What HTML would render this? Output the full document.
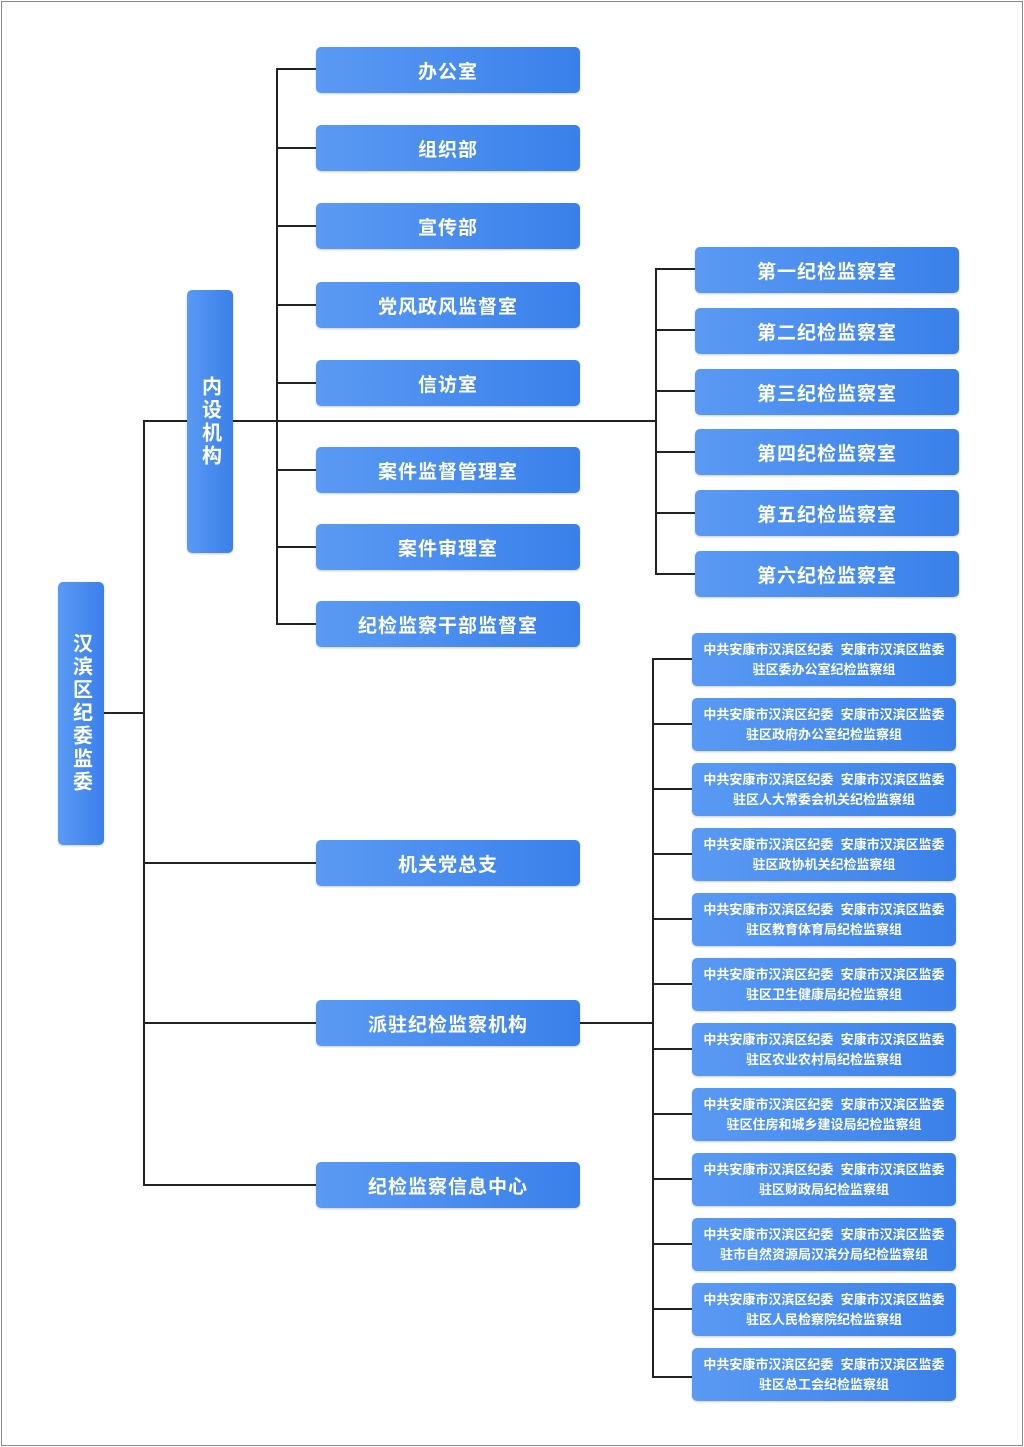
<!DOCTYPE html><html><head><meta charset="utf-8"><style>
body{margin:0;width:1024px;height:1447px;background:#fff;position:relative;overflow:hidden;font-family:"Liberation Sans","Noto Sans CJK SC",sans-serif}
.f{position:absolute;left:1px;top:1px;width:1020px;height:1443px;border:1px solid #888}
.b{position:absolute;background:linear-gradient(90deg,#5a9af4,#3a80ea);border-radius:5px;color:#fff;font-weight:bold;display:flex;align-items:center;justify-content:center;text-align:center;box-shadow:0 1px 2px rgba(0,0,0,.2)}
.l{width:264px;height:46px;left:316px;font-size:19px;letter-spacing:1px}
.r{width:264px;height:46px;left:695px;font-size:19px;letter-spacing:1px}
.s{width:264px;height:53px;left:692px;font-size:13px;line-height:20px}
.v{width:46px;writing-mode:vertical-rl;font-size:20px;letter-spacing:3px}
.h{position:absolute;height:2px;background:#222}
.vl{position:absolute;width:2px;background:#222}
</style></head><body><div class="f"></div>
<div class="vl" style="left:143px;top:420px;height:766px"></div>
<div class="h" style="left:104px;top:712px;width:40px"></div>
<div class="h" style="left:143px;top:420px;width:514px"></div>
<div class="vl" style="left:276px;top:68px;height:557px"></div>
<div class="h" style="left:276px;top:68px;width:40px"></div>
<div class="h" style="left:276px;top:147px;width:40px"></div>
<div class="h" style="left:276px;top:225px;width:40px"></div>
<div class="h" style="left:276px;top:304px;width:40px"></div>
<div class="h" style="left:276px;top:382px;width:40px"></div>
<div class="h" style="left:276px;top:469px;width:40px"></div>
<div class="h" style="left:276px;top:546px;width:40px"></div>
<div class="h" style="left:276px;top:623px;width:40px"></div>
<div class="h" style="left:143px;top:862px;width:173px"></div>
<div class="h" style="left:143px;top:1022px;width:173px"></div>
<div class="h" style="left:143px;top:1184px;width:173px"></div>
<div class="vl" style="left:655px;top:268px;height:306px"></div>
<div class="h" style="left:655px;top:268px;width:40px"></div>
<div class="h" style="left:655px;top:329px;width:40px"></div>
<div class="h" style="left:655px;top:390px;width:40px"></div>
<div class="h" style="left:655px;top:451px;width:40px"></div>
<div class="h" style="left:655px;top:512px;width:40px"></div>
<div class="h" style="left:655px;top:573px;width:40px"></div>
<div class="h" style="left:580px;top:1022px;width:74px"></div>
<div class="vl" style="left:652px;top:658px;height:720px"></div>
<div class="h" style="left:652px;top:658px;width:40px"></div>
<div class="h" style="left:652px;top:723px;width:40px"></div>
<div class="h" style="left:652px;top:788px;width:40px"></div>
<div class="h" style="left:652px;top:853px;width:40px"></div>
<div class="h" style="left:652px;top:918px;width:40px"></div>
<div class="h" style="left:652px;top:983px;width:40px"></div>
<div class="h" style="left:652px;top:1048px;width:40px"></div>
<div class="h" style="left:652px;top:1113px;width:40px"></div>
<div class="h" style="left:652px;top:1178px;width:40px"></div>
<div class="h" style="left:652px;top:1243px;width:40px"></div>
<div class="h" style="left:652px;top:1308px;width:40px"></div>
<div class="h" style="left:652px;top:1376px;width:40px"></div>
<div class="b v" style="left:58px;top:582px;height:263px">汉滨区纪委监委</div>
<div class="b v" style="left:187px;top:290px;height:263px">内设机构</div>
<div class="b l" style="top:47px">办公室</div>
<div class="b l" style="top:125px">组织部</div>
<div class="b l" style="top:203px">宣传部</div>
<div class="b l" style="top:282px">党风政风监督室</div>
<div class="b l" style="top:360px">信访室</div>
<div class="b l" style="top:447px">案件监督管理室</div>
<div class="b l" style="top:524px">案件审理室</div>
<div class="b l" style="top:601px">纪检监察干部监督室</div>
<div class="b l" style="top:840px">机关党总支</div>
<div class="b l" style="top:1000px">派驻纪检监察机构</div>
<div class="b l" style="top:1162px">纪检监察信息中心</div>
<div class="b r" style="top:247px">第一纪检监察室</div>
<div class="b r" style="top:308px">第二纪检监察室</div>
<div class="b r" style="top:369px">第三纪检监察室</div>
<div class="b r" style="top:429px">第四纪检监察室</div>
<div class="b r" style="top:490px">第五纪检监察室</div>
<div class="b r" style="top:551px">第六纪检监察室</div>
<div class="b s" style="top:633px">中共安康市汉滨区纪委&nbsp; 安康市汉滨区监委<br>驻区委办公室纪检监察组</div>
<div class="b s" style="top:698px">中共安康市汉滨区纪委&nbsp; 安康市汉滨区监委<br>驻区政府办公室纪检监察组</div>
<div class="b s" style="top:763px">中共安康市汉滨区纪委&nbsp; 安康市汉滨区监委<br>驻区人大常委会机关纪检监察组</div>
<div class="b s" style="top:828px">中共安康市汉滨区纪委&nbsp; 安康市汉滨区监委<br>驻区政协机关纪检监察组</div>
<div class="b s" style="top:893px">中共安康市汉滨区纪委&nbsp; 安康市汉滨区监委<br>驻区教育体育局纪检监察组</div>
<div class="b s" style="top:958px">中共安康市汉滨区纪委&nbsp; 安康市汉滨区监委<br>驻区卫生健康局纪检监察组</div>
<div class="b s" style="top:1023px">中共安康市汉滨区纪委&nbsp; 安康市汉滨区监委<br>驻区农业农村局纪检监察组</div>
<div class="b s" style="top:1088px">中共安康市汉滨区纪委&nbsp; 安康市汉滨区监委<br>驻区住房和城乡建设局纪检监察组</div>
<div class="b s" style="top:1153px">中共安康市汉滨区纪委&nbsp; 安康市汉滨区监委<br>驻区财政局纪检监察组</div>
<div class="b s" style="top:1218px">中共安康市汉滨区纪委&nbsp; 安康市汉滨区监委<br>驻市自然资源局汉滨分局纪检监察组</div>
<div class="b s" style="top:1283px">中共安康市汉滨区纪委&nbsp; 安康市汉滨区监委<br>驻区人民检察院纪检监察组</div>
<div class="b s" style="top:1348px">中共安康市汉滨区纪委&nbsp; 安康市汉滨区监委<br>驻区总工会纪检监察组</div>
</body></html>
